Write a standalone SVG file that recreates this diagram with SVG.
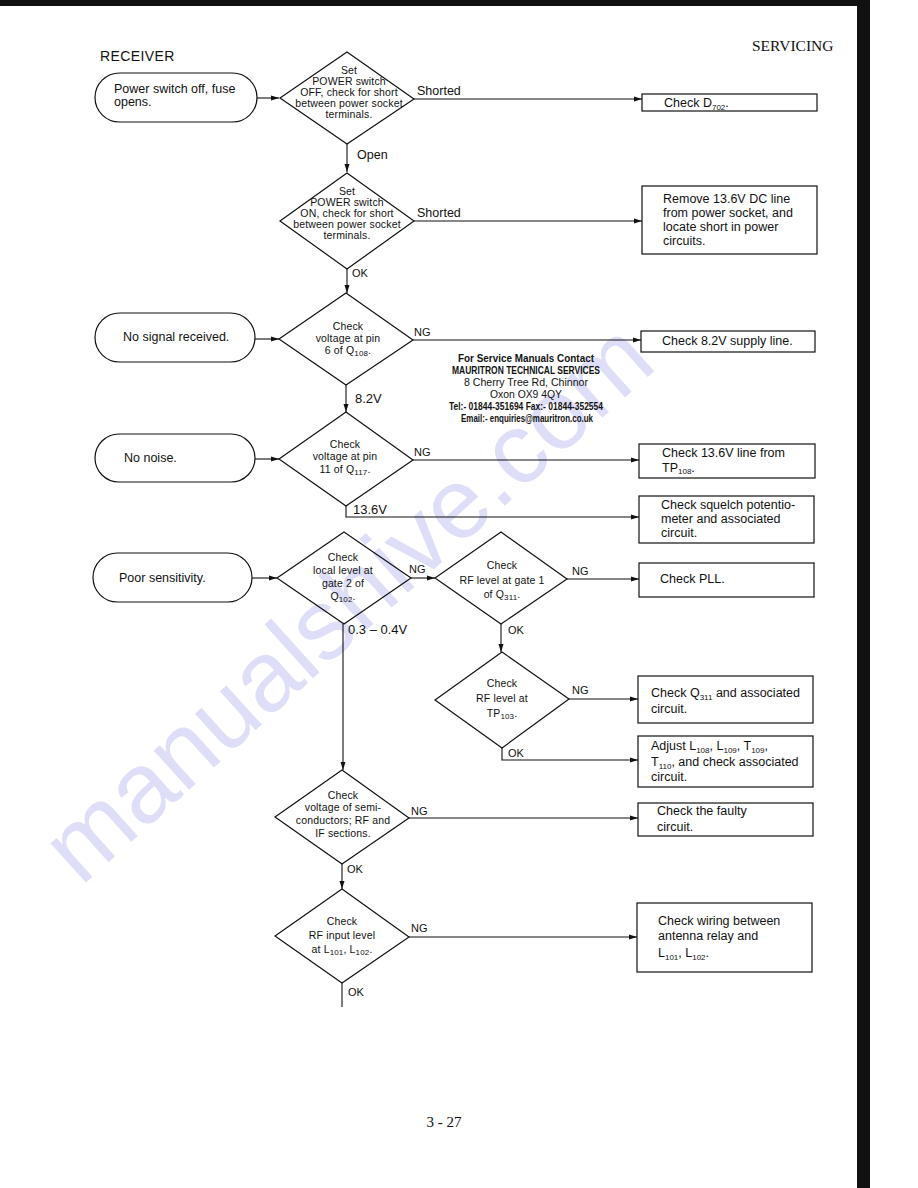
<svg xmlns="http://www.w3.org/2000/svg" width="918" height="1188" viewBox="0 0 918 1188">
<style>
text{font-family:"Liberation Sans",Arial,sans-serif;fill:#111}
.t{font-size:12.5px}
.d{font-size:10.5px;letter-spacing:0.15px;text-anchor:middle}
.l{font-size:11px}
.v{font-size:13px}
.s{font-size:8px}
.shape{fill:none;stroke:#111;stroke-width:1.2}
.c{fill:none;stroke:#111;stroke-width:1.1}
.ad{font-size:11px;font-weight:bold;text-anchor:middle;font-family:"Liberation Sans",Arial,sans-serif}
.wm{font-family:"Liberation Sans",Arial,sans-serif;font-size:100px;fill:#dedef8;text-anchor:middle}
</style>
<defs>
<marker id="ah" markerWidth="8" markerHeight="6" refX="8" refY="3" orient="auto" markerUnits="userSpaceOnUse">
<path d="M0,0.5 L8,3 L0,5.5 z" fill="#111"/>
</marker>
</defs>
<rect width="918" height="1188" fill="#fff"/>
<text class="wm" transform="translate(370,627) rotate(-42)">manualshive.com</text>
<rect x="0" y="0" width="870" height="6" fill="#111"/>
<rect x="857" y="0" width="13" height="1188" fill="#111"/>
<text x="752" y="51" style="font-family:'Liberation Serif','Times New Roman',serif;font-size:15.5px">SERVICING</text>
<text x="100" y="61" style="font-size:14px;letter-spacing:0.4px">RECEIVER</text>

<g id="connectors">
<path class="c" d="M257,98 H279" marker-end="url(#ah)"/>
<path class="c" d="M414,99 H642" marker-end="url(#ah)"/>
<path class="c" d="M347,144 V172" marker-end="url(#ah)"/>
<path class="c" d="M414,221 H642" marker-end="url(#ah)"/>
<path class="c" d="M347,269 V293" marker-end="url(#ah)"/>
<path class="c" d="M255,339 H279" marker-end="url(#ah)"/>
<path class="c" d="M413,340 H641" marker-end="url(#ah)"/>
<path class="c" d="M346,385 V412" marker-end="url(#ah)"/>
<path class="c" d="M255,459 H279" marker-end="url(#ah)"/>
<path class="c" d="M413,460 H639" marker-end="url(#ah)"/>
<path class="c" d="M346,506 V517 H639" marker-end="url(#ah)"/>
<path class="c" d="M252,578 H277" marker-end="url(#ah)"/>
<path class="c" d="M411,578 H435" marker-end="url(#ah)"/>
<path class="c" d="M567,579 H639" marker-end="url(#ah)"/>
<path class="c" d="M501,624 V652" marker-end="url(#ah)"/>
<path class="c" d="M569,699 H638" marker-end="url(#ah)"/>
<path class="c" d="M502,748 V760 H638" marker-end="url(#ah)"/>
<path class="c" d="M343,624 V770" marker-end="url(#ah)"/>
<path class="c" d="M409,818 H638" marker-end="url(#ah)"/>
<path class="c" d="M342,864 V889" marker-end="url(#ah)"/>
<path class="c" d="M409,937 H637" marker-end="url(#ah)"/>
<path class="c" d="M342,983 V1007"/>
<text class="t" x="417" y="95">Shorted</text>
<text class="t" x="357" y="159">Open</text>
<text class="t" x="417" y="217">Shorted</text>
<text class="l" x="352" y="277">OK</text>
<text class="l" x="414" y="336">NG</text>
<text class="v" x="355" y="403">8.2V</text>
<text class="l" x="414" y="456">NG</text>
<text class="v" x="353" y="514">13.6V</text>
<text class="l" x="409" y="573">NG</text>
<text class="l" x="572" y="575">NG</text>
<text class="v" x="348" y="634">0.3 – 0.4V</text>
<text class="l" x="508" y="634">OK</text>
<text class="l" x="572" y="694">NG</text>
<text class="l" x="508" y="757">OK</text>
<text class="l" x="411" y="815">NG</text>
<text class="l" x="347" y="873">OK</text>
<text class="l" x="411" y="932">NG</text>
<text class="l" x="348" y="996">OK</text>
</g>

<g id="t1"><rect class="shape" x="95" y="73" width="162" height="49" rx="24.5"/>
<text class="t" x="114" y="93">Power switch off, fuse</text><text class="t" x="114" y="106">opens.</text></g>
<g id="d1"><path class="shape" d="M347,52 L414,99 L347,144 L280,98 Z"/>
<text class="d" x="349" y="74">Set</text><text class="d" x="349" y="85">POWER switch</text><text class="d" x="349" y="96">OFF, check for short</text><text class="d" x="349" y="107">between power socket</text><text class="d" x="349" y="118">terminals.</text></g>
<g id="b1"><rect class="shape" x="642" y="94" width="175" height="17"/>
<text class="t" x="664" y="107">Check D<tspan class="s" dy="2.5">702</tspan><tspan dy="-2.5">.</tspan></text></g>
<g id="d2"><path class="shape" d="M347,173 L414,221 L347,269 L280,221 Z"/>
<text class="d" x="347" y="195">Set</text><text class="d" x="347" y="206">POWER switch</text><text class="d" x="347" y="217">ON, check for short</text><text class="d" x="347" y="228">between power socket</text><text class="d" x="347" y="239">terminals.</text></g>
<g id="b2"><rect class="shape" x="642" y="186" width="175" height="68"/>
<text class="t" x="663" y="203">Remove 13.6V DC line</text><text class="t" x="663" y="217">from power socket, and</text><text class="t" x="663" y="231">locate short in power</text><text class="t" x="663" y="245">circuits.</text></g>

<g id="t2"><rect class="shape" x="95" y="313" width="160" height="49" rx="24.5"/>
<text class="t" x="123" y="341">No signal received.</text></g>
<g id="d3"><path class="shape" d="M346,293 L413,340 L346,385 L279,339 Z"/>
<text class="d" x="348" y="330">Check</text><text class="d" x="348" y="342">voltage at pin</text><text class="d" x="348" y="354">6 of Q<tspan class="s" dy="2">108</tspan><tspan dy="-2">.</tspan></text></g>
<g id="b3"><rect class="shape" x="641" y="331" width="174" height="21"/>
<text class="t" x="662" y="345">Check 8.2V supply line.</text></g>
<g id="contact">
<text class="ad" x="526" y="362" textLength="136" lengthAdjust="spacingAndGlyphs">For Service Manuals Contact</text>
<text class="ad" x="526" y="374" textLength="148" lengthAdjust="spacingAndGlyphs">MAURITRON TECHNICAL SERVICES</text>
<text class="ad" x="526" y="386" textLength="124" lengthAdjust="spacingAndGlyphs" style="font-weight:normal">8 Cherry Tree Rd, Chinnor</text>
<text class="ad" x="526" y="398" textLength="72" lengthAdjust="spacingAndGlyphs" style="font-weight:normal">Oxon OX9 4QY</text>
<text class="ad" x="526" y="410" textLength="154" lengthAdjust="spacingAndGlyphs">Tel:- 01844-351694 Fax:- 01844-352554</text>
<text class="ad" x="527" y="422" textLength="132" lengthAdjust="spacingAndGlyphs">Email:- enquiries@mauritron.co.uk</text>
</g>

<g id="t3"><rect class="shape" x="95" y="434" width="160" height="48" rx="24"/>
<text class="t" x="124" y="462">No noise.</text></g>
<g id="d4"><path class="shape" d="M346,412 L413,460 L346,506 L279,459 Z"/>
<text class="d" x="345" y="448">Check</text><text class="d" x="345" y="460">voltage at pin</text><text class="d" x="345" y="473">11 of Q<tspan class="s" dy="2">117</tspan><tspan dy="-2">.</tspan></text></g>
<g id="b4"><rect class="shape" x="639" y="444" width="176" height="34"/>
<text class="t" x="662" y="457">Check 13.6V line from</text><text class="t" x="662" y="472">TP<tspan class="s" dy="2">108</tspan><tspan dy="-2">.</tspan></text></g>
<g id="b5"><rect class="shape" x="639" y="496" width="175" height="47"/>
<text class="t" x="661" y="509">Check squelch potentio-</text><text class="t" x="661" y="523">meter and associated</text><text class="t" x="661" y="537">circuit.</text></g>

<g id="t4"><rect class="shape" x="93" y="553" width="159" height="49" rx="24.5"/>
<text class="t" x="119" y="582">Poor sensitivity.</text></g>
<g id="d5"><path class="shape" d="M344,532 L411,578 L344,624 L277,578 Z"/>
<text class="d" x="343" y="561">Check</text><text class="d" x="343" y="574">local level at</text><text class="d" x="343" y="587">gate 2 of</text><text class="d" x="343" y="600">Q<tspan class="s" dy="2">102</tspan><tspan dy="-2">.</tspan></text></g>
<g id="d6"><path class="shape" d="M501,532 L567,579 L501,624 L435,578 Z"/>
<text class="d" x="502" y="569">Check</text><text class="d" x="502" y="584">RF level at gate 1</text><text class="d" x="502" y="598">of Q<tspan class="s" dy="2">311</tspan><tspan dy="-2">.</tspan></text></g>
<g id="b6"><rect class="shape" x="639" y="563" width="175" height="34"/>
<text class="t" x="660" y="583">Check PLL.</text></g>
<g id="d7"><path class="shape" d="M502,652 L569,699 L502,748 L435,700 Z"/>
<text class="d" x="502" y="687">Check</text><text class="d" x="502" y="702">RF level at</text><text class="d" x="502" y="717">TP<tspan class="s" dy="2">103</tspan><tspan dy="-2">.</tspan></text></g>
<g id="b7"><rect class="shape" x="638" y="676" width="175" height="47"/>
<text class="t" x="651" y="697">Check Q<tspan class="s" dy="2.5">311</tspan><tspan dy="-2.5"> and associated</tspan></text><text class="t" x="651" y="713">circuit.</text></g>
<g id="b8"><rect class="shape" x="638" y="736" width="175" height="51"/>
<text class="t" x="651" y="750">Adjust L<tspan class="s" dy="2.5">108</tspan><tspan dy="-2.5">, L</tspan><tspan class="s" dy="2.5">109</tspan><tspan dy="-2.5">, T</tspan><tspan class="s" dy="2.5">109</tspan><tspan dy="-2.5">,</tspan></text>
<text class="t" x="651" y="766">T<tspan class="s" dy="2.5">110</tspan><tspan dy="-2.5">, and check associated</tspan></text><text class="t" x="651" y="781">circuit.</text></g>

<g id="d8"><path class="shape" d="M342,770 L409,818 L342,864 L275,817 Z"/>
<text class="d" x="343" y="799">Check</text><text class="d" x="343" y="811">voltage of semi-</text><text class="d" x="343" y="824">conductors; RF and</text><text class="d" x="343" y="837">IF sections.</text></g>
<g id="b9"><rect class="shape" x="638" y="803" width="175" height="33"/>
<text class="t" x="657" y="815">Check the faulty</text><text class="t" x="657" y="831">circuit.</text></g>
<g id="d9"><path class="shape" d="M342,889 L409,937 L342,983 L275,936 Z"/>
<text class="d" x="342" y="925">Check</text><text class="d" x="342" y="939">RF input level</text><text class="d" x="342" y="953">at L<tspan class="s" dy="2">101</tspan><tspan dy="-2">, L</tspan><tspan class="s" dy="2">102</tspan><tspan dy="-2">.</tspan></text></g>
<g id="b10"><rect class="shape" x="637" y="903" width="175" height="69"/>
<text class="t" x="658" y="925">Check wiring between</text><text class="t" x="658" y="940">antenna relay and</text><text class="t" x="658" y="957">L<tspan class="s" dy="2.5">101</tspan><tspan dy="-2.5">, L</tspan><tspan class="s" dy="2.5">102</tspan><tspan dy="-2.5">.</tspan></text></g>

<text x="444" y="1127" style="font-family:'Liberation Serif','Times New Roman',serif;font-size:15px;text-anchor:middle">3 - 27</text>
</svg>
